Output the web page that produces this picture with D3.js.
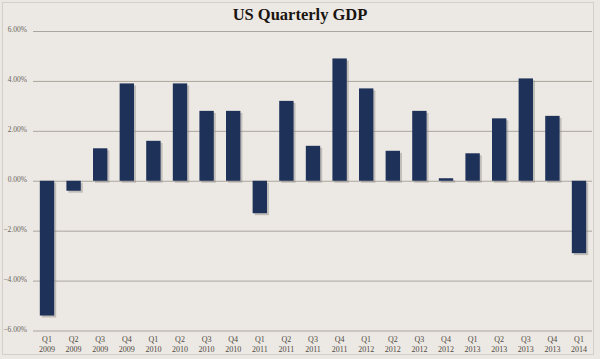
<!DOCTYPE html>
<html><head><meta charset="utf-8">
<script src="https://cdn.jsdelivr.net/npm/d3@7"></script>
<style>html,body{margin:0;padding:0;background:#ebe7e2;}svg{display:block;}</style>
</head><body>
<svg id="c" width="600" height="359"></svg>
<script>
const quarters = ["Q1","Q2","Q3","Q4","Q1","Q2","Q3","Q4","Q1","Q2","Q3","Q4","Q1","Q2","Q3","Q4","Q1","Q2","Q3","Q4","Q1"];
const years = ["2009","2009","2009","2009","2010","2010","2010","2010","2011","2011","2011","2011","2012","2012","2012","2012","2013","2013","2013","2013","2014"];
const gdp = [-5.4,-0.4,1.3,3.9,1.6,3.9,2.8,2.8,-1.3,3.2,1.4,4.9,3.7,1.2,2.8,0.1,1.1,2.5,4.1,2.6,-2.9];
const yTicks = [6,4,2,0,-2,-4,-6];
const title = "US Quarterly GDP";

const svg = d3.select("#c");
const cats = quarters.map((q,i)=>q+" "+years[i]);
const x = d3.scaleBand().domain(cats).range([33.7,592.3]).paddingInner(0.46).paddingOuter(0.23);
const y = d3.scaleLinear().domain([-6,6]).range([330.5,31]);

// background
svg.append("rect").attr("x",0).attr("y",0).attr("width",600).attr("height",359).attr("fill","#ebe7e2");
svg.append("rect").attr("x",2.5).attr("y",2.5).attr("width",591).attr("height",352).attr("fill","#ece8e3").attr("stroke","#d3cfc9");

// title
svg.append("text").attr("x",300).attr("y",20).attr("text-anchor","middle")
  .attr("font-family","Liberation Serif, serif").attr("font-weight","bold").attr("font-size",16.5)
  .attr("fill","#1a1410").text(title);

// grid + y axis
const yAxis = d3.axisLeft(y).tickValues(yTicks).tickSize(-(592-33)).tickFormat(d=>d3.format(".2f")(d)+"%");
const gy = svg.append("g").attr("transform","translate(33,0)").call(yAxis);
gy.select(".domain").remove();
gy.selectAll(".tick line").attr("stroke","#aaa59d").attr("stroke-width",1);
gy.selectAll(".tick text").attr("x",-6).attr("dy","0.1em").attr("font-family","Liberation Serif, serif").attr("font-size",7.5).attr("fill","#6a6560");

// bars with shadow
const bars = svg.append("g");
bars.selectAll("rect.sh").data(gdp).join("rect").attr("class","sh")
  .attr("x",(d,i)=>x(cats[i])+2).attr("y",d=>Math.min(y(d),y(0))+2)
  .attr("width",x.bandwidth()).attr("height",d=>Math.abs(y(d)-y(0)))
  .attr("fill","#8f8a85").attr("opacity",0.45);
bars.selectAll("rect.b").data(gdp).join("rect").attr("class","b")
  .attr("x",(d,i)=>x(cats[i])).attr("y",d=>Math.min(y(d),y(0)))
  .attr("width",x.bandwidth()).attr("height",d=>Math.abs(y(d)-y(0)))
  .attr("fill","#1d3159");

// x labels
const xAxis = d3.axisBottom(x).tickSize(0).tickFormat("");
const gx = svg.append("g").attr("transform","translate(0,331)").call(xAxis);
gx.select(".domain").remove();
gx.selectAll(".tick").each(function(d,i){
  const t = d3.select(this).append("text").attr("text-anchor","middle")
    .attr("font-family","Liberation Serif, serif").attr("font-size",8).attr("fill","#4e4842");
  t.append("tspan").attr("x",0).attr("y",11).text(quarters[i]);
  t.append("tspan").attr("x",0).attr("y",21).text(years[i]);
});
</script>
</body></html>
